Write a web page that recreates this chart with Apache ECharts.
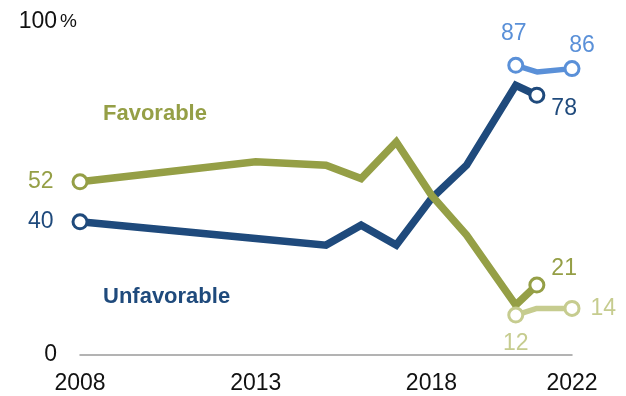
<!DOCTYPE html>
<html>
<head>
<meta charset="utf-8">
<script src="https://cdn.jsdelivr.net/npm/echarts@6/dist/echarts.min.js"></script>
<style>
  html, body { margin: 0; padding: 0; background: #fff; }
  #chart { width: 626px; height: 396px; }
</style>
</head>
<body>
<div id="chart"></div>
<script>
// Survey years (the 2020 survey was fielded mid-year)
const years = [2008, 2013, 2015, 2016, 2017, 2018, 2019, 2020.4, 2021];
const favorable = [52, 58, 57, 53, 64, 48, 36, 15, 21];
const unfavorable = [40, 35, 33, 39, 33, 47, 57, 81, 78];

// Second survey mode, 2020-2022
const newYears = [2020.4, 2021, 2022];
const newFavorable = [12, 14, 14];
const newUnfavorable = [87, 85, 86];

const xTicks = [2008, 2013, 2018, 2022];
const yTicks = [0, 100];

const C_FAV = '#959f46';
const C_UNFAV = '#1f4a7c';
const C_FAV_NEW = '#c6cc8f';
const C_UNFAV_NEW = '#5a90d8';
const FONT = 'Liberation Sans';

function pairs(xs, ys) { return xs.map((x, i) => [x, ys[i]]); }

// Hollow end-point markers with a value label
function endPoint(pt, color, label) {
  return {
    value: pt,
    symbol: 'circle',
    symbolSize: 14,
    itemStyle: { color: '#fff', borderColor: color, borderWidth: 3 },
    label: Object.assign({
      show: true,
      color: color,
      fontFamily: FONT,
      fontSize: 23,
      formatter: p => String(p.value[1])
    }, label)
  };
}

function buildData(xs, ys, color, ends) {
  const d = pairs(xs, ys).map(pt => ({ value: pt, symbol: 'none' }));
  Object.keys(ends).forEach(k => {
    const i = Number(k);
    d[i] = endPoint(d[i].value, color, ends[k]);
  });
  return d;
}

const chart = echarts.init(document.getElementById('chart'), null, { renderer: 'canvas' });

chart.setOption({
  animation: false,
  grid: { left: 80, right: 54, top: 22, bottom: 41, containLabel: false },
  xAxis: {
    type: 'value',
    min: 2008,
    max: 2022,
    splitLine: { show: false },
    axisLine: { show: true, lineStyle: { color: '#9a9a9a', width: 1.5 } },
    axisTick: { show: false },
    axisLabel: {
      customValues: xTicks,
      color: '#111',
      fontFamily: FONT,
      fontSize: 23,
      margin: 17,
      formatter: v => String(v)
    }
  },
  yAxis: {
    type: 'value',
    min: 0,
    max: 100,
    splitLine: { show: false },
    axisLine: { show: false },
    axisTick: { show: false },
    axisLabel: {
      customValues: yTicks,
      color: '#111',
      fontFamily: FONT,
      fontSize: 23,
      margin: 3,
      formatter: v => v === 100 ? v + '{p|%}' : v + '{p|}',
      rich: {
        p: { width: 20, fontSize: 19, fontFamily: FONT, color: '#111', align: 'right' }
      }
    }
  },
  graphic: [
    {
      type: 'text', left: 103, top: 103,
      style: { text: 'Favorable', fill: C_FAV, font: 'bold 22px "Liberation Sans"' }
    },
    {
      type: 'text', left: 103, top: 286,
      style: { text: 'Unfavorable', fill: C_UNFAV, font: 'bold 22px "Liberation Sans"' }
    }
  ],
  series: [
    {
      name: 'Unfavorable',
      type: 'line',
      data: buildData(years, unfavorable, C_UNFAV, {
        0: { position: 'left', distance: 18 },
        8: { position: 'right', distance: 6, offset: [0, 13] }
      }),
      lineStyle: { color: C_UNFAV, width: 7.5, join: 'miter' },
      showSymbol: true,
      z: 2
    },
    {
      name: 'Favorable',
      type: 'line',
      data: buildData(years, favorable, C_FAV, {
        0: { position: 'left', distance: 18 },
        8: { position: 'right', distance: 6, offset: [0, -16] }
      }),
      lineStyle: { color: C_FAV, width: 7.5, join: 'miter' },
      showSymbol: true,
      z: 3
    },
    {
      name: 'Unfavorable (new)',
      type: 'line',
      data: buildData(newYears, newUnfavorable, C_UNFAV_NEW, {
        0: { position: 'top', distance: 12, offset: [-2, 0] },
        2: { position: 'top', distance: 3, offset: [10, 0] }
      }),
      lineStyle: { color: C_UNFAV_NEW, width: 5.5 },
      showSymbol: true,
      z: 4
    },
    {
      name: 'Favorable (new)',
      type: 'line',
      data: buildData(newYears, newFavorable, C_FAV_NEW, {
        0: { position: 'bottom', distance: 9 },
        2: { position: 'right', distance: 10 }
      }),
      lineStyle: { color: C_FAV_NEW, width: 5.5 },
      showSymbol: true,
      z: 4
    }
  ]
});
</script>
</body>
</html>
